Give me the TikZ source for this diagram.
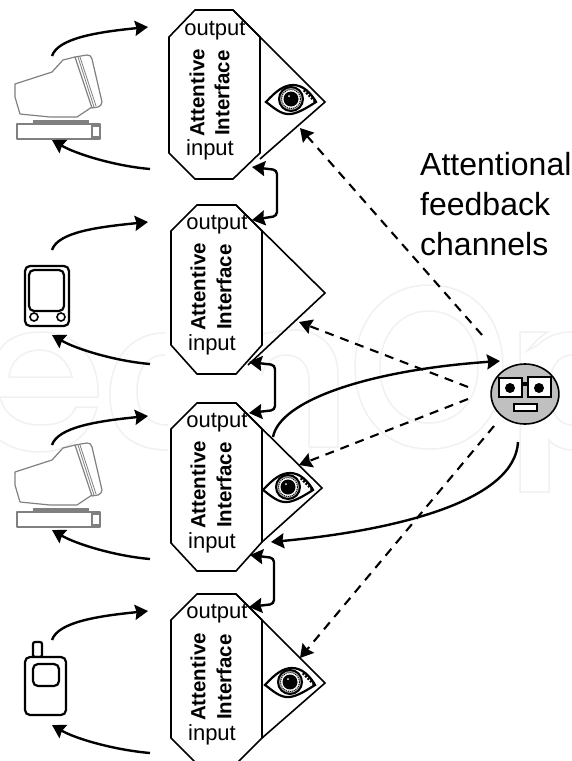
\documentclass[tikz,border=0pt]{standalone}
\usepackage{fontspec}
\setmainfont{Liberation Sans}
\usetikzlibrary{arrows.meta}
\definecolor{wm}{HTML}{EFF2F0}
\definecolor{icon}{HTML}{808080}
\definecolor{facegray}{HTML}{C0C0C0}
\tikzset{
  x=1pt,y=-1pt,
  shell/.style={draw=black,fill=white,line width=1.6pt,line join=miter},
  flow/.style={draw=black,line width=2.4pt,-{Stealth[length=13pt,width=15pt,inset=1.5pt]}},
  link/.style={draw=black,line width=2.4pt,rounded corners=4pt,{Stealth[length=13pt,width=15pt,inset=1.5pt]}-{Stealth[length=13pt,width=15pt,inset=1.5pt]}},
  attn/.style={draw=black,line width=2.1pt,dash pattern=on 9pt off 7pt,-{Stealth[length=13pt,width=15pt,inset=1.5pt]}},
  watermark/.style={draw=wm,line width=1.5pt},
  lbl/.style={font=\fontsize{22}{22}\selectfont,inner sep=0pt},
  vlbl/.style={font=\fontsize{20.5}{20.5}\selectfont\bfseries,inner sep=0pt,rotate=90},
  big/.style={font=\fontsize{32}{40}\selectfont,inner sep=0pt,align=left,anchor=north west},
  monline/.style={draw=icon,line width=1.2pt,line join=round},
  devline/.style={draw=black,line width=2.2pt,rounded corners=5pt},
  eyeline/.style={draw=black,line width=2.2pt},
  eyepic/.pic={
    \draw[eyeline,fill=white] (-25,3) .. controls (-15,-8) and (-7,-14) .. (2,-14) .. controls (12,-14) and (20,-6) .. (25,3)
      .. controls (14,10) and (4,16) .. (-4,15) .. controls (-12,14) and (-18,8) .. (-25,3) -- cycle;
    \draw[draw=black,line width=3pt,dash pattern=on 2pt off 1.5pt] (13,-9) -- (25,3);
    \fill[gray!60] (0,0) circle (12);
    \draw[black,line width=2pt] (0,0) circle (12);
    \fill[white] (0,0) circle (9.5);
    \draw[black,line width=1pt,dash pattern=on 1pt off 1pt] (0,0) circle (9.5);
    \fill[black] (0,0) circle (7.5);
    \fill[white] (-2,-3) circle (1);
  },
  monitorpic/.pic={
    \draw[monline] (75,57) -- (63,60) -- (52,72) -- (15,84) -- (15,97) -- (20,114) -- (50,117) -- (77,117) -- (92,107);
    \draw[monline,fill=white] (75,57) -- (87,55) .. controls (90,55) and (91,56) .. (92,59) -- (102,102) .. controls (102,105) and (100,106) .. (98,107) -- (92,108) -- cycle;
    \draw[monline,line width=.8pt] (78,57) -- (94,107);
    \draw[monline,line width=.8pt] (80,57) -- (96,106);
    \draw[icon,line width=3pt] (33,121) -- (89,121);
    \draw[monline,fill=white] (17,124) rectangle (100,139);
    \draw[monline] (92,125) -- (92,138);
    \draw[monline,line width=2pt] (93,126) -- (99,126) (93,137) -- (99,137);
  }
}
\begin{document}
\begin{tikzpicture}
\useasboundingbox (0,0) rectangle (572,761);
\fill[white] (0,0) rectangle (572,761);
% watermark
\draw[watermark] (9,377) -- (72,377) .. controls (68,360) and (55,350) .. (40,350) .. controls (22,350) and (10,362) .. (9,377);
\draw[watermark] (0,397) -- (98,397) .. controls (100,360) and (78,332) .. (40,332) .. controls (20,332) and (5,340) .. (0,350);
\draw[watermark] (0,397) .. controls (4,415) and (20,425) .. (40,425) .. controls (60,425) and (70,420) .. (76,407) -- (97,407) .. controls (90,438) and (65,452) .. (40,452) .. controls (25,452) and (10,448) .. (0,440);
\draw[watermark] (165,333) .. controls (130,333) and (110,360) .. (110,395) .. controls (110,430) and (130,450) .. (168,450);
\draw[watermark] (165,355) .. controls (145,355) and (137,372) .. (137,392) .. controls (137,412) and (148,425) .. (168,425);
\draw[watermark] (309,447) -- (338,447) -- (338,375) .. controls (338,345) and (318,330) .. (295,330) .. controls (275,330) and (255,335) .. (235,345);
\draw[watermark] (309,447) -- (309,380) .. controls (309,365) and (300,355) .. (286,355) .. controls (275,355) and (265,362) .. (262,375);
\draw[watermark] (429,285) .. controls (475,285) and (503,320) .. (503,367) .. controls (503,415) and (475,449) .. (429,449) .. controls (385,449) and (355,415) .. (355,367) .. controls (355,320) and (385,285) .. (429,285) -- cycle;
\draw[watermark] (429,311) .. controls (458,311) and (478,335) .. (478,367) .. controls (478,400) and (458,423) .. (429,423) .. controls (400,423) and (380,400) .. (380,367) .. controls (380,335) and (400,311) .. (429,311) -- cycle;
\draw[watermark] (572,332) .. controls (555,332) and (545,338) .. (538,345) -- (527,351) .. controls (536,340) and (545,333) .. (548,332) -- (520,332) -- (520,492) -- (549,492) -- (549,440) .. controls (555,447) and (565,450) .. (572,450);
\draw[watermark] (572,355) .. controls (558,355) and (549,368) .. (549,390) .. controls (549,410) and (558,425) .. (572,425);
% interfaces
\draw[shell] (195,10) -- (233,10) -- (260,37) -- (260,153) -- (233,179) -- (195,179) -- (169,153) -- (169,37) -- cycle;
\draw[shell,fill=none] (233,10) -- (325,102) -- (260,159);
\draw[shell] (197,205) -- (236,205) -- (262,231) -- (262,345) -- (236,374) -- (197,374) -- (171,345) -- (171,231) -- cycle;
\draw[shell,fill=none] (236,205) -- (325,293) -- (248,365);
\draw[shell] (197,403) -- (236,403) -- (262,429) -- (262,542) -- (236,571) -- (197,571) -- (171,543) -- (171,429) -- cycle;
\draw[shell,fill=none] (236,403) -- (322,488) -- (262,542);
\draw[shell] (197,594) -- (236,594) -- (262,620) -- (262,738) -- (238,762) -- (195,762) -- (171,738) -- (171,620) -- cycle;
\draw[shell,fill=none] (236,594) -- (325,683) -- (262,738);
% labels
\node[lbl] (out1) at (215,31) {output};
\node[lbl] (in1) at (210,150) {input};
\node[vlbl] (att1) at (197,93) {Attentive};
\node[vlbl] (int1) at (222,93) {Interface};
\node[lbl] (out2) at (217,225) {output};
\node[lbl] (in2) at (212,345) {input};
\node[vlbl] (att2) at (198,287) {Attentive};
\node[vlbl] (int2) at (224,287) {Interface};
\node[lbl] (out3) at (217,423) {output};
\node[lbl] (in3) at (212,543) {input};
\node[vlbl] (att3) at (198,485) {Attentive};
\node[vlbl] (int3) at (224,485) {Interface};
\node[lbl] (out4) at (217,614) {output};
\node[lbl] (in4) at (212,735) {input};
\node[vlbl] (att4) at (198,677) {Attentive};
\node[vlbl] (int4) at (224,677) {Interface};
\node[big] (title) at (420,152) {Attentional\\feedback\\channels};
% eyes
\pic at (291,99) {eyepic};
\pic at (288,487) {eyepic};
\pic at (290,682) {eyepic};
% devices
\pic at (0,0) {monitorpic};
\pic at (0,388) {monitorpic};
\draw[devline] (25,266) rectangle (69,326);
\draw[devline] (29,270) rectangle (64,311);
\draw[black,line width=1.6pt] (34,317) circle (4);
\draw[black,line width=1.6pt] (61,317) circle (4);
\draw[devline,rounded corners=2pt] (33,642) rectangle (42,657);
\draw[devline,fill=white] (25,657) rectangle (66,715);
\draw[devline] (33,664) rectangle (59,686);
% face
\node[draw=black,fill=facegray,line width=1.6pt,circle,minimum size=60pt,inner sep=0pt,xscale=1.13] (face) at (525,394) {};
\fill[white,draw=black,line width=1.4pt] (499,378) rectangle (522,397);
\fill[white,draw=black,line width=1.4pt] (528,377) rectangle (551,397);
\fill[black] (522,382) rectangle (528,386);
\fill[black] (510,388) circle (5);
\fill[black] (539,388) circle (5);
\fill[white,draw=black,line width=1.2pt] (514,404) rectangle (537,411);
% connector ends
\coordinate (a1s) at (52,56); \coordinate (a1e) at (148,27);
\coordinate (b1s) at (150,169); \coordinate (b1e) at (52,140);
\coordinate (a2s) at (52,250); \coordinate (a2e) at (148,222);
\coordinate (b2s) at (150,364); \coordinate (b2e) at (52,335);
\coordinate (a3s) at (52,445); \coordinate (a3e) at (148,416);
\coordinate (b3s) at (150,559); \coordinate (b3e) at (52,530);
\coordinate (a4s) at (52,640); \coordinate (a4e) at (148,611);
\coordinate (b4s) at (150,753); \coordinate (b4e) at (52,725);
\draw[flow] (a1s) .. controls +(6,-18) and +(-50,5) .. (a1e);
\draw[flow] (a2s) .. controls +(6,-18) and +(-50,5) .. (a2e);
\draw[flow] (a3s) .. controls +(6,-18) and +(-50,5) .. (a3e);
\draw[flow] (a4s) .. controls +(6,-18) and +(-50,5) .. (a4e);
\draw[flow] (b1s) .. controls +(-35,-3) and +(24,14) .. (b1e);
\draw[flow] (b2s) .. controls +(-35,-3) and +(24,14) .. (b2e);
\draw[flow] (b3s) .. controls +(-35,-3) and +(24,14) .. (b3e);
\draw[flow] (b4s) .. controls +(-35,-3) and +(24,14) .. (b4e);
% links between interfaces
\coordinate (l1a) at (252,167); \coordinate (l1b) at (252,220);
\coordinate (l2a) at (249,362); \coordinate (l2b) at (249,413);
\coordinate (l3a) at (250,555); \coordinate (l3b) at (249,607);
\draw[link] (l1a) -- (277,170) -- (277,216) -- (l1b);
\draw[link] (l2a) -- (275,365) -- (275,410) -- (l2b);
\draw[link] (l3a) -- (274,558) -- (274,604) -- (l3b);
% attentional channels
\coordinate (d1s) at (482,335); \coordinate (d1e) at (300,128);
\coordinate (d2s) at (468,387); \coordinate (d2e) at (299,322);
\coordinate (d3s) at (468,399); \coordinate (d3e) at (299,465);
\coordinate (d4s) at (494,426); \coordinate (d4e) at (300,658);
\draw[attn] (d1s) -- (d1e);
\draw[attn] (d2s) -- (d2e);
\draw[attn] (d3s) -- (d3e);
\draw[attn] (d4s) -- (d4e);
% user loop
\coordinate (u1s) at (273,437); \coordinate (u1e) at (500,361);
\coordinate (u2s) at (518,442); \coordinate (u2e) at (271,542);
\draw[flow] (u1s) .. controls (280,400) and (370,370) .. (u1e);
\draw[flow] (u2s) .. controls (515,500) and (400,530) .. (u2e);
\end{tikzpicture}
\end{document}
